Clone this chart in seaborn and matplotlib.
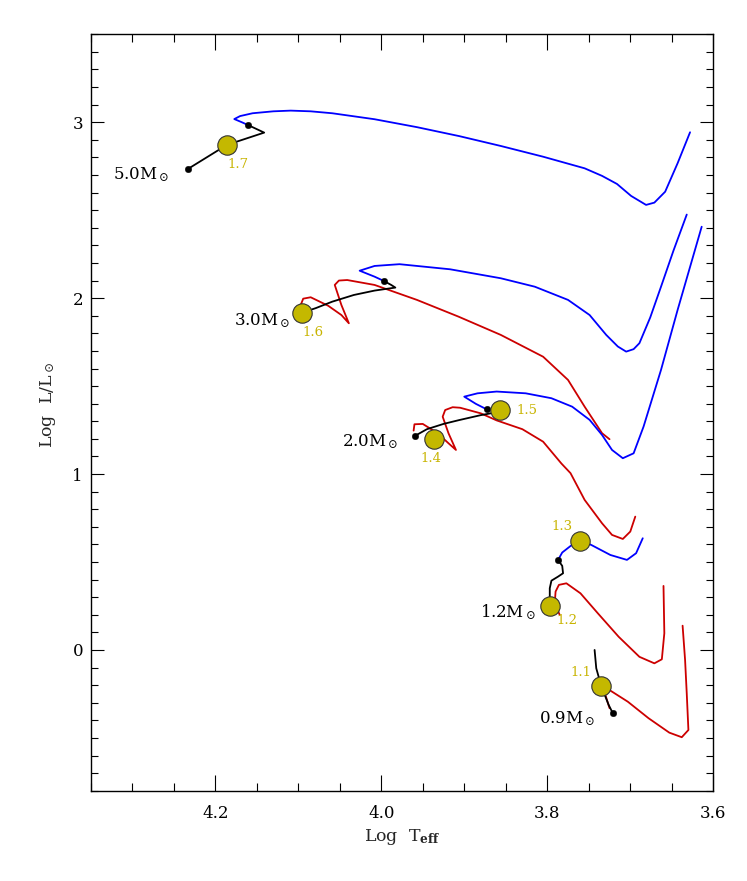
import numpy as np
import pandas as pd
import matplotlib
matplotlib.use("Agg")
import matplotlib.pyplot as plt
from matplotlib.ticker import MultipleLocator, FixedLocator
import seaborn as sns

# ---------------- data (log Teff, log L/Lsun) ----------------
# 5.0 Msun
m50_black_x = [4.233, 4.186, 4.141, 4.160]
m50_black_y = [2.734, 2.871, 2.941, 2.983]
m50_blue_x = [4.160, 4.168, 4.177, 4.170, 4.155, 4.130, 4.109, 4.085, 4.059, 4.008, 3.957,
              3.906, 3.856, 3.805, 3.755, 3.734, 3.716, 3.699, 3.681, 3.671, 3.658, 3.643, 3.628]
m50_blue_y = [2.983, 3.000, 3.018, 3.035, 3.051, 3.062, 3.066, 3.062, 3.051, 3.017, 2.972,
              2.921, 2.865, 2.804, 2.738, 2.695, 2.649, 2.581, 2.530, 2.543, 2.605, 2.767, 2.943]

# 3.0 Msun
m30_black_x = [4.095, 4.079, 4.059, 4.033, 4.008, 3.983, 3.988, 3.997]
m30_black_y = [1.918, 1.943, 1.980, 2.018, 2.043, 2.060, 2.075, 2.098]
m30_blue_x = [3.997, 4.008, 4.026, 4.008, 3.978, 3.917, 3.856, 3.815, 3.775, 3.749, 3.729,
              3.715, 3.705, 3.696, 3.689, 3.676, 3.663, 3.648, 3.632]
m30_blue_y = [2.098, 2.122, 2.156, 2.183, 2.193, 2.164, 2.113, 2.065, 1.990, 1.904, 1.791,
              1.725, 1.696, 1.710, 1.744, 1.890, 2.065, 2.270, 2.475]
m30_red_x = [4.097, 4.094, 4.085, 4.064, 4.048, 4.039, 4.048, 4.056, 4.051, 4.041, 4.008,
             3.957, 3.907, 3.856, 3.805, 3.775, 3.755, 3.734, 3.725]
m30_red_y = [1.961, 1.997, 2.005, 1.957, 1.904, 1.857, 1.961, 2.075, 2.100, 2.103, 2.075,
             1.990, 1.895, 1.791, 1.667, 1.535, 1.383, 1.232, 1.198]

# 2.0 Msun
m20_black_x = [3.959, 3.945, 3.925, 3.906, 3.880, 3.860, 3.855, 3.873]
m20_black_y = [1.218, 1.255, 1.285, 1.307, 1.335, 1.352, 1.362, 1.368]
m20_blue_x = [3.873, 3.886, 3.900, 3.884, 3.861, 3.826, 3.795, 3.770, 3.749, 3.734, 3.722,
              3.709, 3.696, 3.684, 3.663, 3.643, 3.614]
m20_blue_y = [1.368, 1.399, 1.440, 1.459, 1.469, 1.459, 1.431, 1.383, 1.308, 1.222, 1.137,
              1.090, 1.118, 1.270, 1.592, 1.933, 2.406]
m20_red_x = [3.961, 3.960, 3.950, 3.932, 3.919, 3.910, 3.919, 3.926, 3.923, 3.914, 3.905,
             3.880, 3.861, 3.830, 3.805, 3.783, 3.772, 3.755, 3.734, 3.722, 3.709, 3.700, 3.694]
m20_red_y = [1.247, 1.283, 1.285, 1.232, 1.175, 1.137, 1.232, 1.326, 1.364, 1.380, 1.377,
             1.345, 1.305, 1.255, 1.184, 1.060, 1.005, 0.853, 0.720, 0.654, 0.631, 0.673, 0.758]

# 1.2 Msun
m12_black_x = [3.797, 3.797, 3.797, 3.795, 3.787, 3.781, 3.782, 3.787]
m12_black_y = [0.252, 0.303, 0.351, 0.394, 0.417, 0.436, 0.478, 0.512]
m12_blue_x = [3.787, 3.782, 3.772, 3.760, 3.747, 3.724, 3.704, 3.693, 3.685]
m12_blue_y = [0.512, 0.554, 0.591, 0.621, 0.597, 0.540, 0.512, 0.550, 0.635]
m12_red_x = [3.785, 3.791, 3.790, 3.786, 3.777, 3.760, 3.739, 3.714, 3.689, 3.671, 3.662,
             3.659, 3.660]
m12_red_y = [0.199, 0.265, 0.332, 0.370, 0.379, 0.322, 0.208, 0.075, -0.039, -0.076, -0.053,
             0.095, 0.364]

# 0.9 Msun
m09_black_x = [3.743, 3.741, 3.735, 3.726, 3.721]
m09_black_y = [0.000, -0.104, -0.205, -0.313, -0.360]
m09_red_x = [3.725, 3.730, 3.725, 3.703, 3.678, 3.653, 3.638, 3.630, 3.632, 3.634, 3.637]
m09_red_y = [-0.331, -0.256, -0.228, -0.294, -0.388, -0.470, -0.496, -0.455, -0.247, -0.057, 0.138]

# black dots
dot_x = [4.233, 4.160, 3.997, 3.959, 3.873, 3.787, 3.721]
dot_y = [2.734, 2.983, 2.098, 1.218, 1.368, 0.512, -0.360]

# yellow circles and their labels
circ_x = [4.186, 4.095, 3.857, 3.937, 3.760, 3.797, 3.735]
circ_y = [2.871, 1.918, 1.364, 1.199, 0.621, 0.252, -0.205]
circ_lab = ["1.7", "1.6", "1.5", "1.4", "1.3", "1.2", "1.1"]
circ_lab_x = [4.173, 4.082, 3.825, 3.940, 3.782, 3.776, 3.760]
circ_lab_y = [2.757, 1.804, 1.360, 1.090, 0.701, 0.167, -0.128]

# mass labels (right end, baseline)
mass_lab = [r"5.0M$_\odot$", r"3.0M$_\odot$", r"2.0M$_\odot$", r"1.2M$_\odot$", r"0.9M$_\odot$"]
mass_lab_x = [4.255, 4.109, 3.980, 3.814, 3.742]
mass_lab_y = [2.675, 1.848, 1.160, 0.186, -0.417]

# ---------------- plotting ----------------
sns.set_style("ticks")
plt.rcParams["font.family"] = ["DejaVu Serif", "DejaVu Sans"]
plt.rcParams["mathtext.fontset"] = "dejavuserif"

fig = plt.figure(figsize=(7.47, 8.81), dpi=100)
ax = fig.add_axes([0.1214, 0.1025, 0.8335, 0.8586])

BLUE = "#0000ff"
RED = "#cc0000"
BLACK = "#000000"
LW = 1.3

def draw(xs, ys, color):
    df = pd.DataFrame({"x": xs, "y": ys})
    sns.lineplot(data=df, x="x", y="y", sort=False, estimator=None, color=color,
                 lw=LW, ax=ax, zorder=2)

draw(m50_blue_x, m50_blue_y, BLUE)
draw(m50_black_x, m50_black_y, BLACK)
draw(m30_blue_x, m30_blue_y, BLUE)
draw(m30_red_x, m30_red_y, RED)
draw(m30_black_x, m30_black_y, BLACK)
draw(m20_blue_x, m20_blue_y, BLUE)
draw(m20_red_x, m20_red_y, RED)
draw(m20_black_x, m20_black_y, BLACK)
draw(m12_blue_x, m12_blue_y, BLUE)
draw(m12_red_x, m12_red_y, RED)
draw(m12_black_x, m12_black_y, BLACK)
draw(m09_red_x, m09_red_y, RED)
draw(m09_black_x, m09_black_y, BLACK)

sns.scatterplot(x=dot_x, y=dot_y, color=BLACK, s=22, edgecolor=BLACK, linewidth=0.3,
                ax=ax, zorder=4)
sns.scatterplot(x=circ_x, y=circ_y, color="#c4b800", s=195, edgecolor="#333333",
                linewidth=0.8, ax=ax, zorder=5)

for t, x, y in zip(circ_lab, circ_lab_x, circ_lab_y):
    ax.text(x, y, t, color="#c8b400", fontsize=9.5, ha="center", va="center", zorder=6)
for t, x, y in zip(mass_lab, mass_lab_x, mass_lab_y):
    ax.text(x, y, t, color="black", fontsize=12, ha="right", va="baseline", zorder=6)

ax.set_xlim(4.35, 3.6)
ax.set_ylim(-0.8, 3.5)
ax.xaxis.set_major_locator(FixedLocator([4.2, 4.0, 3.8, 3.6]))
ax.set_xticklabels(["4.2", "4.0", "3.8", "3.6"])
ax.xaxis.set_minor_locator(MultipleLocator(0.05))
ax.yaxis.set_major_locator(FixedLocator([0, 1, 2, 3]))
ax.set_yticklabels(["0", "1", "2", "3"])
ax.yaxis.set_minor_locator(MultipleLocator(0.1))

ax.tick_params(which="both", direction="in", top=True, right=True, width=0.8,
               colors="black", labelsize=12)
ax.tick_params(axis="x", which="major", length=11.5, pad=10)
ax.tick_params(axis="x", which="minor", length=5.8)
ax.tick_params(axis="y", which="major", length=9.1, pad=5.5)
ax.tick_params(axis="y", which="minor", length=4.8)
for s in ax.spines.values():
    s.set_linewidth(1.0)
    s.set_color("black")

ax.set_xlabel(r"Log  T$_{\mathbf{eff}}$", fontsize=12.5)
ax.set_ylabel(r"Log  L/L$_\odot$", fontsize=12.5)
ax.xaxis.set_label_coords(0.5, -0.061)
ax.xaxis.label.set_va("center")
ax.yaxis.set_label_coords(-0.068, 0.51)
ax.yaxis.label.set_va("center")

fig.savefig("out.png", dpi=100)
